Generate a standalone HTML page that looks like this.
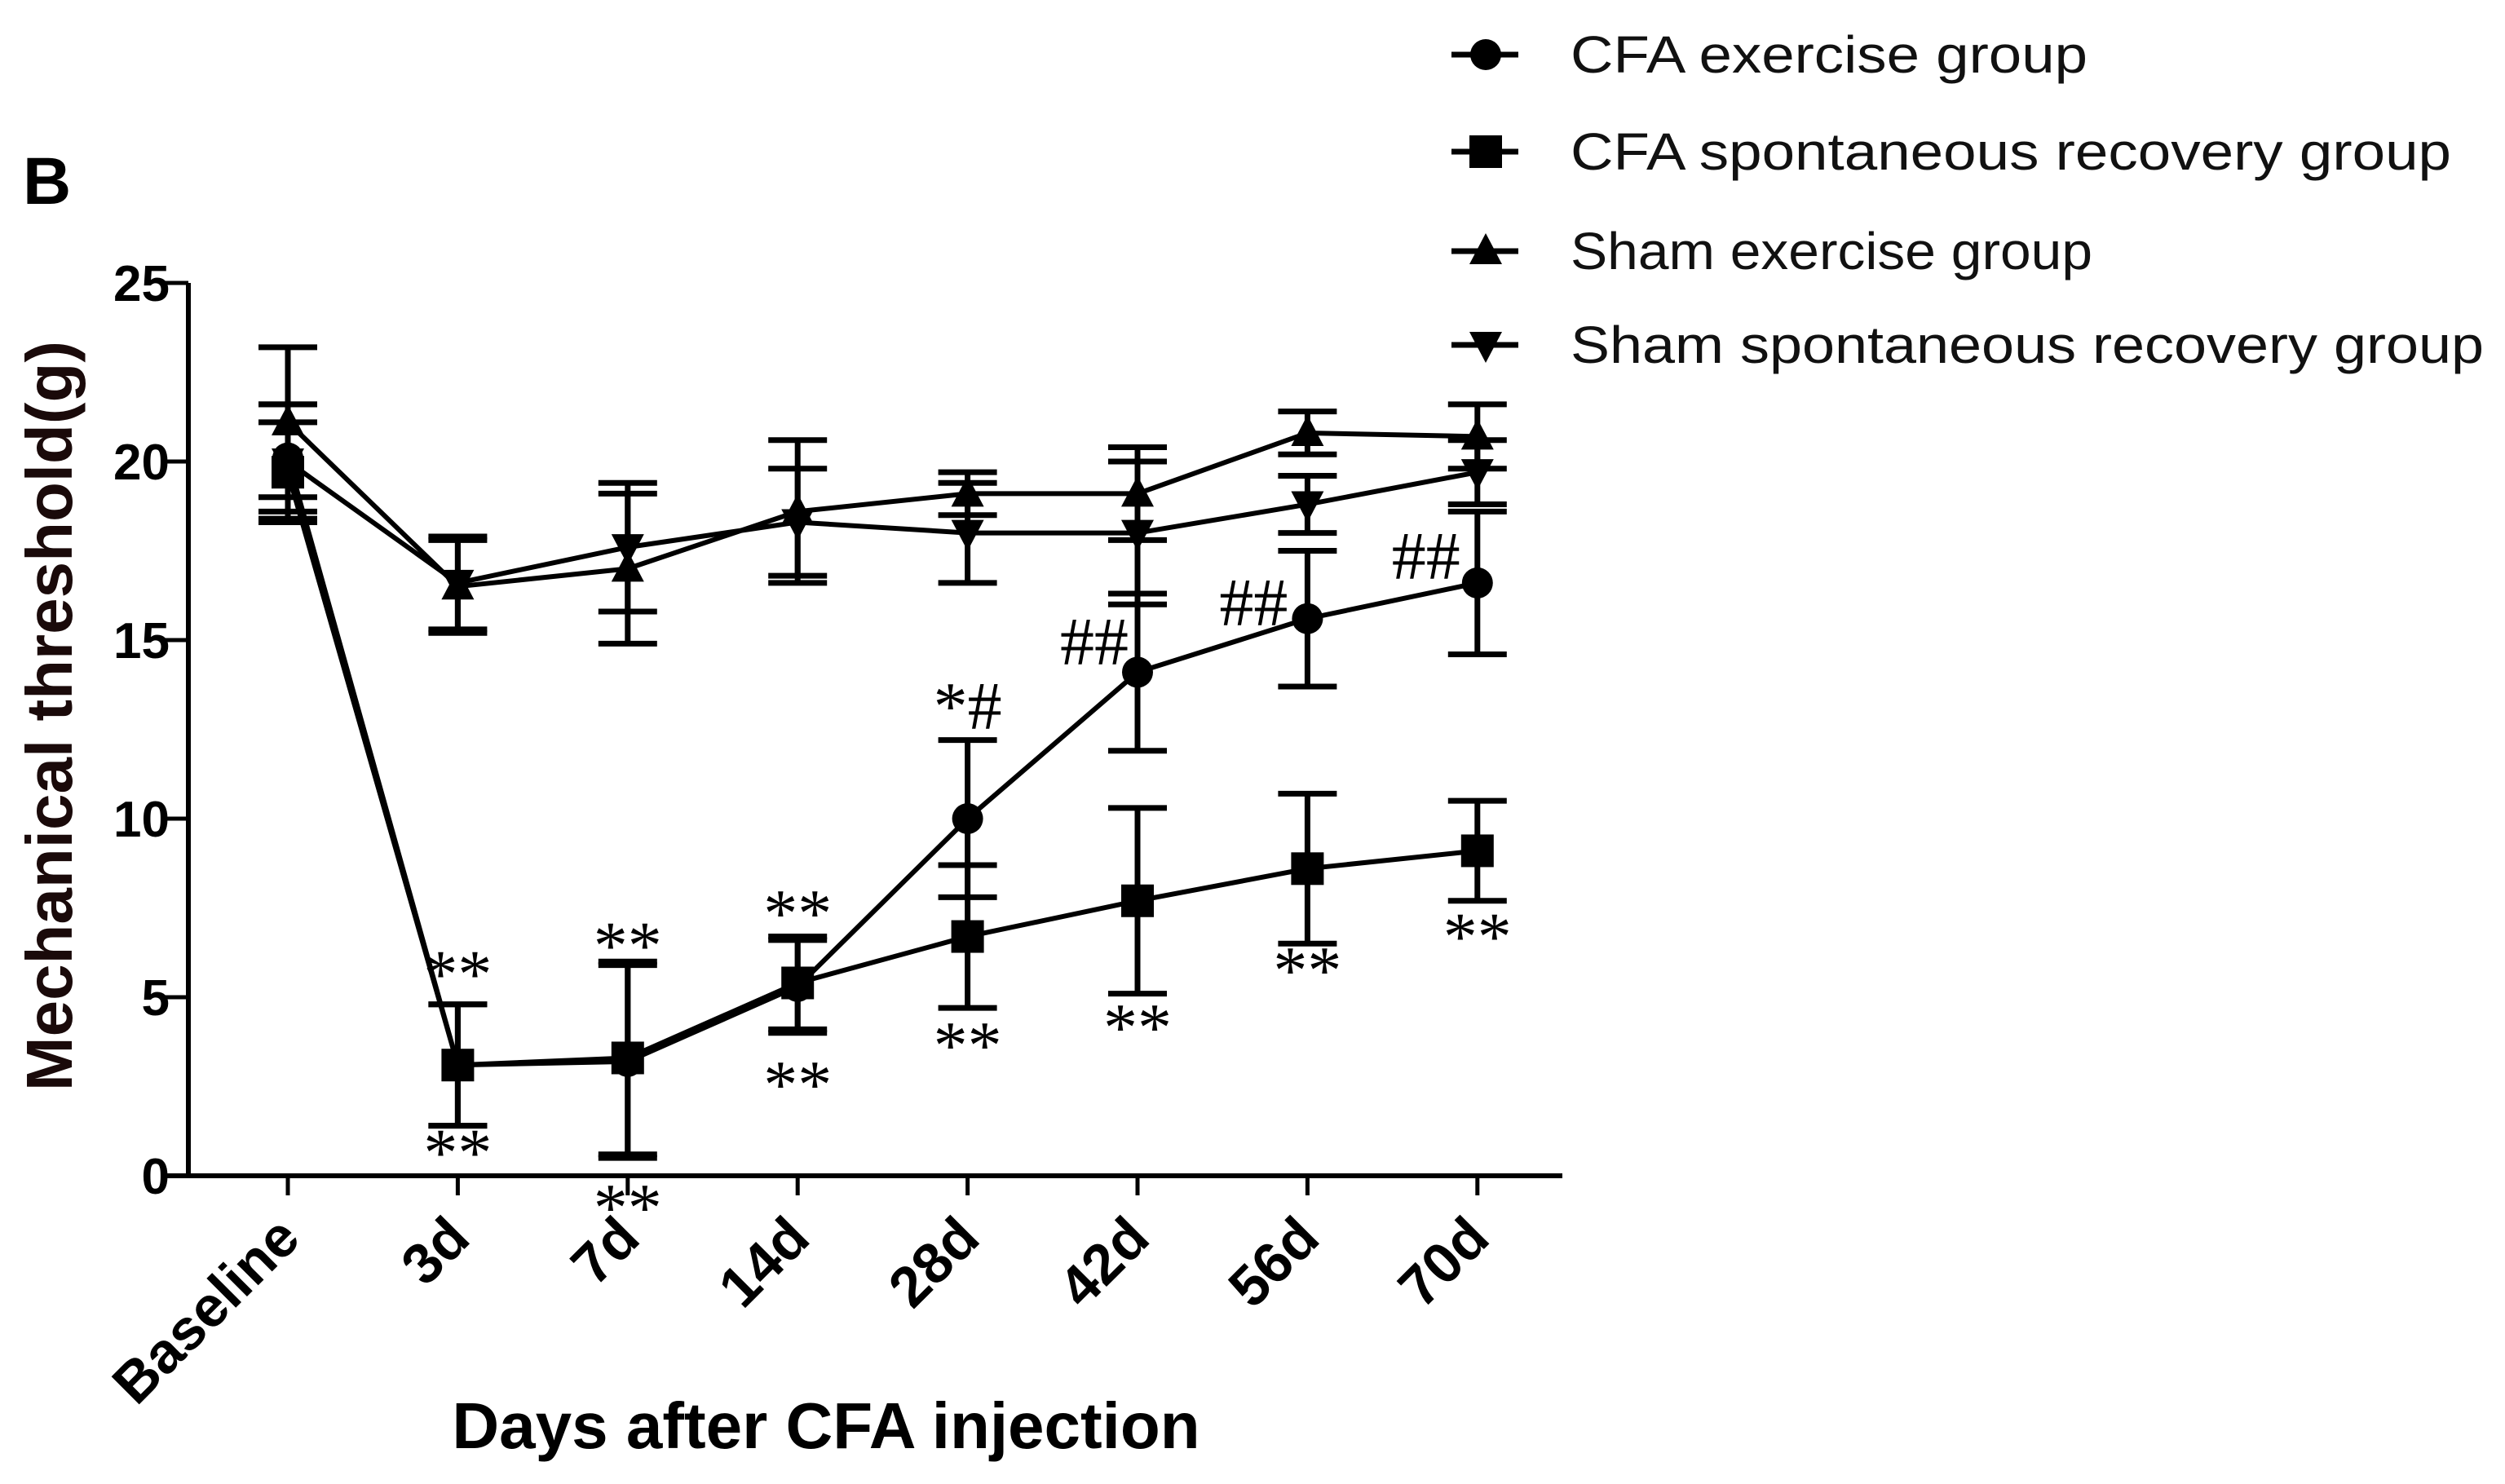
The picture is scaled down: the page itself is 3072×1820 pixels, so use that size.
<!DOCTYPE html>
<html><head><meta charset="utf-8"><style>
html,body{margin:0;padding:0;background:#fff;width:3072px;height:1820px;overflow:hidden}
svg{display:block}
</style></head><body>
<svg id="chart" width="3072" height="1820" viewBox="0 0 3072 1820" xmlns="http://www.w3.org/2000/svg" font-family="Liberation Sans, Arial, sans-serif">
<text x="28" y="250" font-size="82" font-weight="bold">B</text>
<g id="plot"></g>
<g id="legend"></g>
</svg>
<script>
const categories = ["Baseline","3d","7d","14d","28d","42d","56d","70d"];
const yTicks = [0,5,10,15,20,25];
const seriesNames = ["CFA exercise group","CFA spontaneous recovery group","Sham exercise group","Sham spontaneous recovery group"];
const cfaExercise = [20.1,3.1,3.2,5.3,10.0,14.1,15.6,16.6];
const cfaExerciseErr = [1.5,1.7,2.7,1.3,2.2,2.2,1.9,2.0];
const cfaSpont = [19.7,3.1,3.3,5.4,6.7,7.7,8.6,9.1];
const cfaSpontErr = [1.4,1.7,2.7,1.3,2.0,2.6,2.1,1.4];
const shamExercise = [21.1,16.5,17.0,18.6,19.1,19.1,20.8,20.7];
const shamExerciseErr = [2.1,1.3,2.1,2.0,0.6,1.3,0.6,0.9];
const shamSpont = [20.0,16.6,17.6,18.3,18.0,18.0,18.8,19.7];
const shamSpontErr = [1.6,1.3,1.8,1.5,1.4,2.0,0.8,0.9];
const annotText = ["**","**","**","**","**","**","**","**","**","**","*#","##","##","##"];
const annotIdx  = [1,1,2,2,3,3,4,5,6,7,4,5,6,7];
const annotY    = [5.7,0.7,6.5,-0.85,7.4,2.6,3.7,4.2,5.8,6.75,13.2,15.0,16.1,17.4];
const annotShift = [0,0,0,0,0,0,0,0,0,0,0,-53,-66,-63];

const NS="http://www.w3.org/2000/svg";
const X0=353, DX=208.4, Y0=1442, YU=43.8;
const xS=i=>X0+DX*i, yS=v=>Y0-YU*v;
const plot=document.getElementById('plot');
function mk(tag,attrs,parent){const e=document.createElementNS(NS,tag);for(const k in attrs)e.setAttribute(k,attrs[k]);(parent||plot).appendChild(e);return e;}

let e=mk('line',{x1:231,y1:yS(25),x2:231,y2:Y0+3,stroke:'#000','stroke-width':6});


e=mk('line',{x1:205,y1:Y0,x2:1916,y2:Y0,stroke:'#000','stroke-width':6});


yTicks.forEach(t=>{
  let l=mk('line',{x1:203,y1:yS(t),x2:231,y2:yS(t),stroke:'#000','stroke-width':5});
  
  
  let tx=mk('text',{x:208,y:yS(t)+22,'font-size':62,'font-weight':'bold','text-anchor':'end'});
  tx.textContent=t;
  
  
});
categories.forEach((c,i)=>{
  let l=mk('line',{x1:xS(i),y1:Y0,x2:xS(i),y2:Y0+24,stroke:'#000','stroke-width':5});
  
  
  let tx=mk('text',{x:xS(i)+18,y:Y0+80,'font-size':70,'font-weight':'bold','text-anchor':'end',transform:`rotate(-45 ${xS(i)+18} ${Y0+80})`});
  tx.textContent=c;
  
  
});
e=mk('text',{x:1013,y:1776,'font-size':80,'font-weight':'bold','text-anchor':'middle'});
e.textContent='Days after CFA injection';


e=mk('text',{x:88,y:878,'font-size':80,'font-weight':'bold','text-anchor':'middle',fill:'#1a0a0a',transform:'rotate(-90 88 878)'});
e.textContent='Mechanical threshold(g)';



function marker(type,cx,cy,parent){
  if(type==='circle') return mk('circle',{cx,cy,r:19,fill:'#000'},parent);
  if(type==='square') return mk('rect',{x:cx-20,y:cy-20,width:40,height:40,fill:'#000'},parent);
  if(type==='up') return mk('polygon',{points:`${cx},${cy-22} ${cx+20},${cy+16} ${cx-20},${cy+16}`,fill:'#000'},parent);
  return mk('polygon',{points:`${cx},${cy+22} ${cx+20},${cy-16} ${cx-20},${cy-16}`,fill:'#000'},parent);
}
const series=[[cfaExercise,cfaExerciseErr,'circle'],[cfaSpont,cfaSpontErr,'square'],[shamExercise,shamExerciseErr,'up'],[shamSpont,shamSpontErr,'down']];
series.forEach(([vals,errs,type],s)=>{
  const g=mk('g',{});
  
  
  vals.forEach((v,i)=>{
    const eb=mk('path',{d:`M${xS(i)},${yS(v-errs[i])}V${yS(v+errs[i])}M${xS(i)-36},${yS(v+errs[i])}H${xS(i)+36}M${xS(i)-36},${yS(v-errs[i])}H${xS(i)+36}`,stroke:'#000','stroke-width':7,fill:'none'},g);
    
    
  });
  const ln=mk('polyline',{points:vals.map((v,i)=>xS(i)+','+yS(v)).join(' '),fill:'none',stroke:'#000','stroke-width':6},g);
  
  
  vals.forEach((v,i)=>{
    const m=marker(type,xS(i),yS(v),g);
    
    
  });
});
annotText.forEach((t,k)=>{
  const tx=mk('text',{x:xS(annotIdx[k])+annotShift[k],y:yS(annotY[k])+30,'font-size':84,'text-anchor':'middle','font-family':'Liberation Serif, serif'});
  tx.textContent=t;
  
  
});

const leg=document.getElementById('legend');
const legY=[67,186,308,423];
const legTypes=['circle','square','up','down'];
const legW=[634,1080,640,1120];
seriesNames.forEach((n,i)=>{
  const g=mk('g',{},leg);
  
  
  mk('line',{x1:1780,y1:legY[i],x2:1862,y2:legY[i],stroke:'#000','stroke-width':7},g);
  marker(legTypes[i],1822,legY[i],g);
  const tx=mk('text',{x:1926,y:legY[i]+22,'font-size':64,fill:'#111',textLength:legW[i],lengthAdjust:'spacingAndGlyphs'},g);
  tx.textContent=n;
});
</script>
</body></html>
